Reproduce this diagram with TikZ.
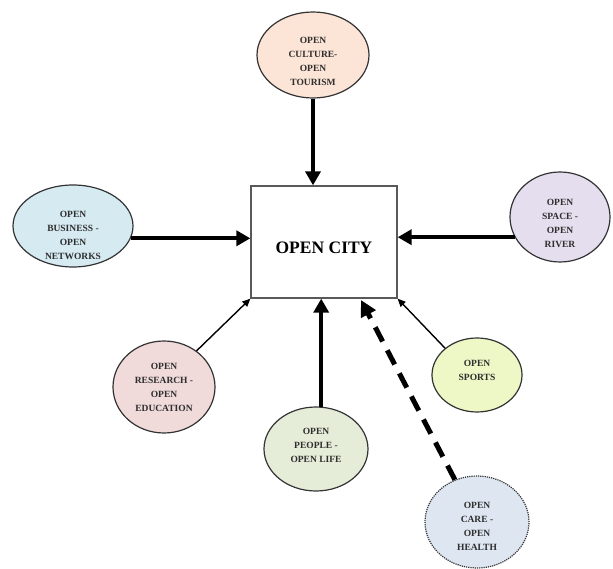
\documentclass[tikz,border=0pt]{standalone}
\usepackage{fontspec}
\setmainfont{Liberation Serif}
\usetikzlibrary{arrows.meta,calc,shapes.geometric}
\definecolor{cculture}{HTML}{FCE4D6}
\definecolor{cbusiness}{HTML}{D6EAF2}
\definecolor{cspace}{HTML}{E4DEEE}
\definecolor{cresearch}{HTML}{F0DADA}
\definecolor{csports}{HTML}{EEF7C6}
\definecolor{cpeople}{HTML}{E5EDD9}
\definecolor{ccare}{HTML}{DDE6F1}
\definecolor{txt}{HTML}{2E2E2E}
\tikzset{
  bubble/.style={ellipse, draw=black!80, line width=1.2pt, inner sep=0pt},
  btext/.style={align=center, text=txt, font=\fontsize{9.5}{14}\selectfont\bfseries},
  cityb/.style={draw=black!65, line width=1.3pt, minimum width=146pt, minimum height=112pt},
  ctext/.style={yshift=-6pt, font=\fontsize{17.5}{20}\selectfont\bfseries, text=black},
  thickarr/.style={line width=4pt, -{Triangle[length=14pt,width=15pt]}},
  thinarr/.style={line width=1.4pt, -{Triangle[length=8pt,width=7pt]}},
  dasharr/.style={line width=5pt, dash pattern=on 16pt off 10pt, -{Triangle[length=16pt,width=16pt]}}
}
\begin{document}
\begin{tikzpicture}[x=1pt,y=-1pt]
\useasboundingbox (0,0) rectangle (613,569);
\node[cityb, label={[ctext]center:OPEN CITY}] (city) at (324,242) {};
\node[bubble, fill=cculture, minimum width=112pt, minimum height=86pt,
  label={[btext,yshift=-6pt]center:OPEN\\CULTURE-\\OPEN\\TOURISM}] (culture) at (313,55) {};
\node[bubble, fill=cbusiness, minimum width=120pt, minimum height=82pt,
  label={[btext,yshift=-9pt]center:OPEN\\BUSINESS -\\OPEN\\NETWORKS}] (business) at (73,226) {};
\node[bubble, fill=cspace, minimum width=100pt, minimum height=90pt,
  label={[btext,yshift=-6pt]center:OPEN\\SPACE -\\OPEN\\RIVER}] (space) at (560,217) {};
\node[bubble, fill=cresearch, minimum width=102pt, minimum height=92pt,
  label={[btext]center:OPEN\\RESEARCH -\\OPEN\\EDUCATION}] (research) at (164,387) {};
\node[bubble, fill=csports, minimum width=90pt, minimum height=74pt,
  label={[btext,yshift=5pt]center:OPEN\\SPORTS}] (sports) at (477,375) {};
\node[bubble, fill=cpeople, minimum width=104pt, minimum height=84pt,
  label={[btext,yshift=4pt]center:OPEN\\PEOPLE -\\OPEN LIFE}] (people) at (316,449) {};
\node[bubble, fill=ccare, densely dotted, minimum width=104pt, minimum height=92pt,
  label={[btext,yshift=-4pt]center:OPEN\\CARE -\\OPEN\\HEALTH}] (care) at (477,522) {};
\coordinate (caretip) at (361,300);
\draw[thickarr] (culture.south) -- (culture.south |- city.north);
\draw[thickarr] (business.-12) -- (business.-12 -| city.west);
\draw[thickarr] (space.204) -- (space.204 -| city.east);
\draw[thickarr] (people.83) -- (people.83 |- city.south);
\draw[thinarr] (research.48) -- (city.south west);
\draw[thinarr] (sports.140) -- (city.south east);
\draw[dasharr] (care) -- (caretip);
\end{tikzpicture}
\end{document}
